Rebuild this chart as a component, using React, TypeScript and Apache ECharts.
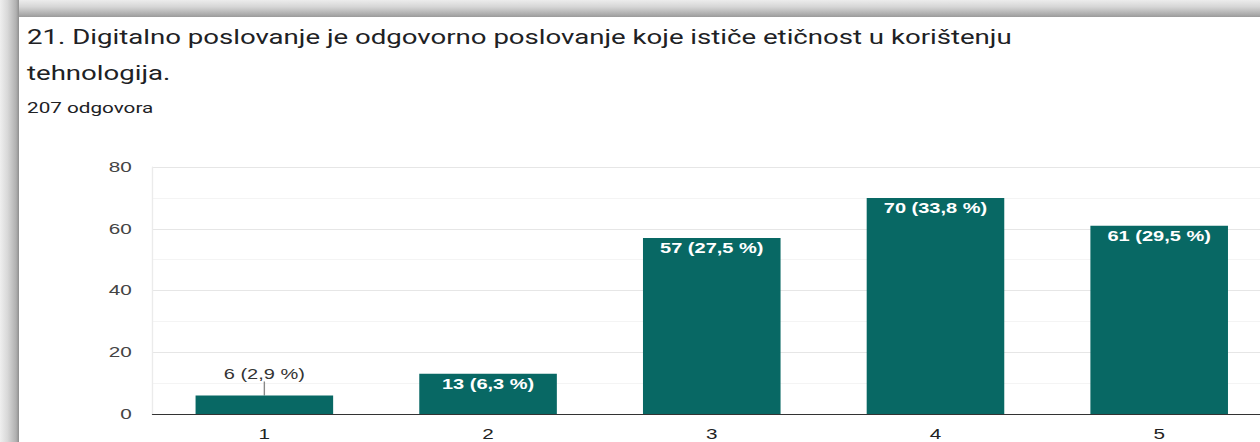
import React, { useEffect, useRef } from "react";
import * as echarts from "echarts";

const titleLine1 = "21. Digitalno poslovanje je odgovorno poslovanje koje ističe etičnost u korištenju";
const titleLine2 = "tehnologija.";
const subtitle = "207 odgovora";
const categories = ["1", "2", "3", "4", "5"];
const counts = [6, 13, 57, 70, 61];
const percents = ["2,9", "6,3", "27,5", "33,8", "29,5"];
const yTicks = [0, 20, 40, 60, 80];

const BAR = "#086864";
// The reference screenshot is stretched horizontally; render narrower and stretch.
const W = 913;
const SX = 1260 / W;

export default function App() {
  const ref = useRef<HTMLDivElement>(null);
  useEffect(() => {
    if (!ref.current) return;
    const chart = echarts.init(ref.current, null, { renderer: "svg" });
    const data = counts.map((v, i) => ({
      value: v,
      label:
        i === 0
          ? {
              show: true,
              position: "top",
              distance: 4,
              color: "#333333",
              fontWeight: "normal",
            }
          : {
              show: true,
              position: "insideTop",
              distance: 3,
              color: "#ffffff",
              fontWeight: "bold",
            },
    }));
    chart.setOption({
      animation: false,
      backgroundColor: "#ffffff",
      textStyle: { fontFamily: "Liberation Sans, Arial, sans-serif" },
      graphic: [
        {
          type: "rect",
          shape: { x: 0, y: 0, width: W, height: 17 },
          style: {
            fill: new echarts.graphic.LinearGradient(0, 0, 0, 1, [
              { offset: 0, color: "#ececec" },
              { offset: 0.4, color: "#d6d6d6" },
              { offset: 0.85, color: "#ababab" },
              { offset: 1, color: "#9a9a9a" },
            ]),
          },
          z: 10,
        },
        {
          type: "rect",
          shape: { x: 0, y: 0, width: 19 / SX, height: 442 },
          style: {
            fill: new echarts.graphic.LinearGradient(0, 0, 1, 0, [
              { offset: 0, color: "#efefef" },
              { offset: 0.4, color: "#d8d8d8" },
              { offset: 0.85, color: "#b0b0b0" },
              { offset: 1, color: "#8e8e8e" },
            ]),
          },
          z: 10,
        },
        {
          type: "text",
          left: 27 / SX,
          top: 19,
          style: {
            text: titleLine1 + "\n" + titleLine2,
            fontFamily: "Roboto, sans-serif",
            fontSize: 20,
            lineHeight: 36,
            fill: "#202124",
          },
        },
        {
          type: "text",
          left: 27 / SX,
          top: 100,
          style: {
            text: subtitle,
            fontFamily: "Roboto, sans-serif",
            fontSize: 15,
            fill: "#202124",
          },
        },
      ],
      grid: {
        left: 152.5 / SX,
        right: -8,
        top: 167,
        bottom: 442 - 414,
        containLabel: false,
        outerBoundsMode: "none",
      },
      xAxis: {
        type: "category",
        data: categories,
        axisLine: { show: true, lineStyle: { color: "#333333", width: 1 } },
        axisTick: { show: false },
        axisLabel: { color: "#222222", fontSize: 15, margin: 13 },
        splitLine: { show: false },
      },
      yAxis: {
        type: "value",
        min: 0,
        max: 80,
        interval: 10,
        axisLine: { show: true, lineStyle: { color: "#ebebeb" } },
        axisTick: { show: false },
        axisLabel: {
          color: "#444444",
          fontSize: 15,
          margin: 15,
          formatter: (v: number) => (yTicks.includes(v) ? String(v) : ""),
        },
        splitLine: { show: true, lineStyle: { color: ["#e6e6e6", "#f4f4f4"], width: 1 } },
      },
      series: [
        {
          type: "bar",
          data,
          barWidth: "61.5%",
          itemStyle: { color: BAR },
          label: {
            show: true,
            fontSize: 14.5,
            fontFamily: "Liberation Sans, Arial, sans-serif",
            formatter: (p: any) => `${counts[p.dataIndex]} (${percents[p.dataIndex]} %)`,
          },
          labelLayout: (p: any) => (p.dataIndex === 0 ? { dy: -10 } : {}),
          labelLine: { show: true, lineStyle: { color: "#888888", width: 1 } },
        },
      ],
    });
    return () => chart.dispose();
  }, []);
  return (
    <div
      ref={ref}
      style={{
        position: "fixed",
        left: 0,
        top: 0,
        width: W,
        height: 442,
        transform: `scaleX(${SX})`,
        transformOrigin: "0 0",
      }}
    />
  );
}
